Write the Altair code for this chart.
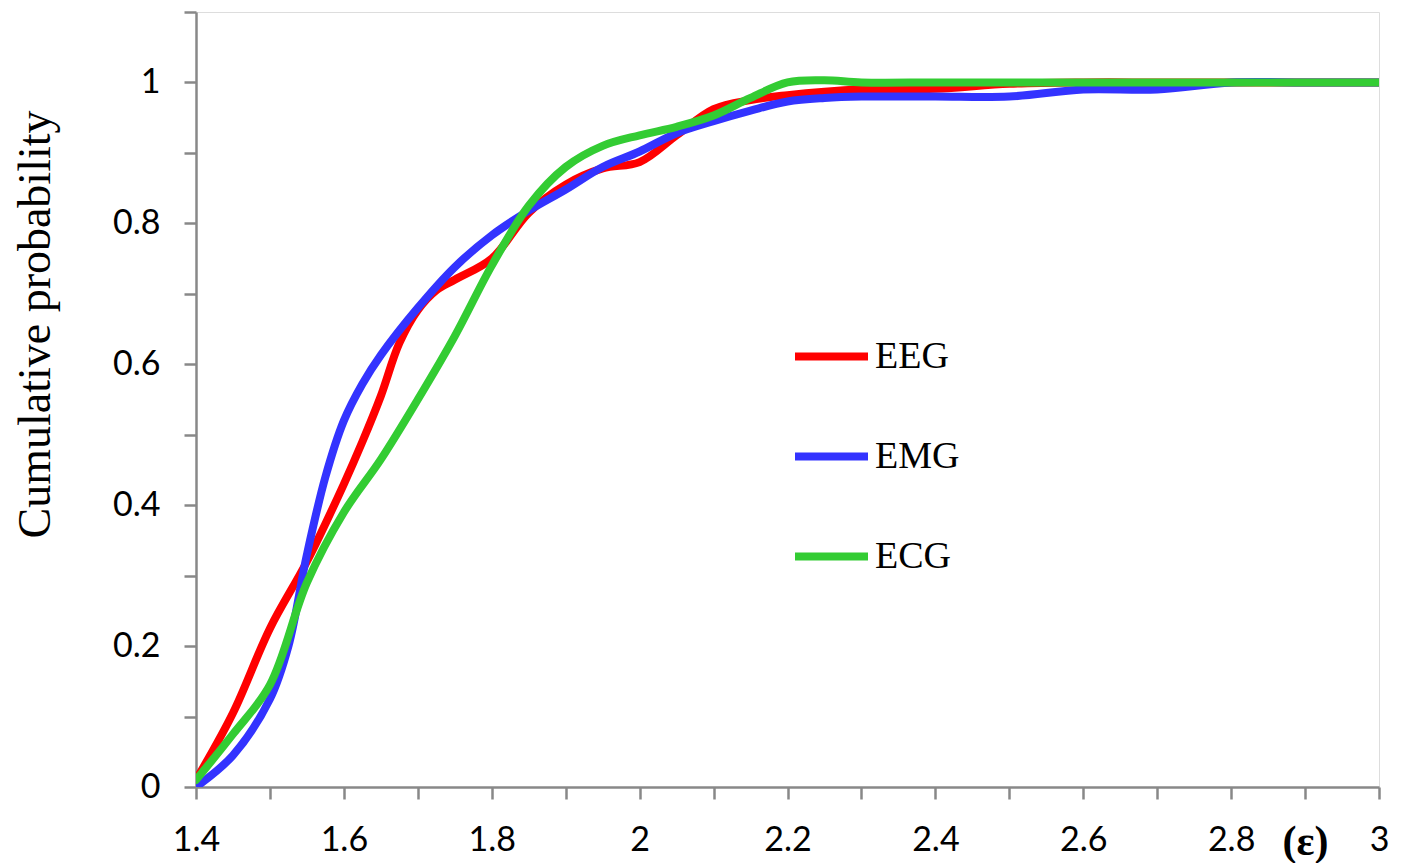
import altair as alt
import pandas as pd

# EEG series
eeg_x = [1.40, 1.45, 1.50, 1.55, 1.60, 1.625, 1.65, 1.675, 1.70, 1.725, 1.75, 1.80,
         1.85, 1.90, 1.95, 2.00, 2.05, 2.10, 2.15, 2.20, 2.25, 2.30, 2.40, 2.50,
         2.60, 2.70, 2.80, 2.90, 3.00]
eeg_y = [0.01, 0.105, 0.225, 0.32, 0.43, 0.49, 0.555, 0.63, 0.677, 0.705, 0.72, 0.75,
         0.815, 0.855, 0.878, 0.887, 0.925, 0.962, 0.975, 0.982, 0.987, 0.99, 0.991, 0.998,
         1.0, 1.0, 1.0, 1.0, 1.0]

# EMG series
emg_x = [1.40, 1.45, 1.50, 1.525, 1.55, 1.575, 1.60, 1.625, 1.65, 1.70, 1.75, 1.80,
         1.85, 1.90, 1.95, 2.00, 2.05, 2.10, 2.15, 2.20, 2.25, 2.30, 2.40, 2.50,
         2.60, 2.70, 2.80, 2.90, 3.00]
emg_y = [0.0, 0.045, 0.125, 0.2, 0.33, 0.44, 0.52, 0.572, 0.613, 0.68, 0.738, 0.783,
         0.818, 0.848, 0.88, 0.902, 0.928, 0.945, 0.96, 0.973, 0.978, 0.98, 0.98, 0.98,
         0.99, 0.99, 1.0, 1.0, 1.0]

# ECG series
ecg_x = [1.40, 1.45, 1.50, 1.55, 1.60, 1.65, 1.70, 1.75, 1.80, 1.85, 1.90, 1.95,
         2.00, 2.05, 2.10, 2.15, 2.20, 2.25, 2.30, 2.40, 2.50, 2.60, 2.70, 2.80,
         2.90, 3.00]
ecg_y = [0.01, 0.075, 0.145, 0.29, 0.39, 0.465, 0.55, 0.64, 0.74, 0.825, 0.88, 0.91,
         0.925, 0.937, 0.953, 0.978, 1.0, 1.003, 1.0, 1.0, 1.0, 1.0, 1.0, 1.0,
         1.0, 1.0]

series_names = ["EEG", "EMG", "ECG"]
series_colors = ["#FF0000", "#3333FF", "#33CC33"]

x_ticks = [1.4, 1.5, 1.6, 1.7, 1.8, 1.9, 2.0, 2.1, 2.2, 2.3, 2.4, 2.5, 2.6, 2.7,
           2.8, 2.9, 3.0]
y_ticks = [0.0, 0.1, 0.2, 0.3, 0.4, 0.5, 0.6, 0.7, 0.8, 0.9, 1.0, 1.1]

rows = []
for name, xs, ys in zip(series_names, [eeg_x, emg_x, ecg_x], [eeg_y, emg_y, ecg_y]):
    for x, y in zip(xs, ys):
        rows.append({"eps": x, "p": y, "signal": name})
df = pd.DataFrame(rows)

axis_gray = "#888888"

chart = alt.Chart(df).mark_line(
    strokeWidth=8, interpolate="catmull-rom", strokeCap="round", clip=True
).encode(
    x=alt.X(
        "eps:Q",
        scale=alt.Scale(domain=[1.4, 3.0], nice=False, zero=False),
        axis=alt.Axis(
            values=x_ticks,
            format="~g",
            labelExpr="round(datum.value*10) % 2 == 0 ? datum.label : ''",
            title="(ε)",
            titleFont="Liberation Serif",
            titleFontWeight="bold",
            titleFontSize=42,
            titleColor="black",
            titleX=1109,
            titleY=67,
            titleAlign="center",
            titleBaseline="alphabetic",
            labelFont="Lato",
            labelFontSize=34,
            labelColor="black",
            labelPadding=24,
            labelFlush=False,
            tickSize=12,
            tickWidth=2.5,
            tickColor=axis_gray,
            domainColor=axis_gray,
            domainWidth=2.5,
            grid=False,
        ),
    ),
    y=alt.Y(
        "p:Q",
        scale=alt.Scale(domain=[0, 1.1], nice=False),
        axis=alt.Axis(
            values=y_ticks,
            format="~g",
            labelExpr="round(datum.value*10) % 2 == 0 ? datum.label : ''",
            title="Cumulative probability",
            titleFont="Liberation Serif",
            titleFontWeight="normal",
            titleFontSize=46,
            titleColor="black",
            titleAngle=-90,
            titleX=-161,
            titleY=312,
            titleAlign="center",
            titleBaseline="middle",
            labelFont="Lato",
            labelFontSize=34,
            labelColor="black",
            labelPadding=24,
            labelFlush=False,
            tickSize=12,
            tickWidth=2.5,
            tickColor=axis_gray,
            domainColor=axis_gray,
            domainWidth=2.5,
            grid=False,
        ),
    ),
    color=alt.Color(
        "signal:N",
        scale=alt.Scale(domain=series_names, range=series_colors),
        sort=series_names,
        legend=alt.Legend(
            title=None,
            orient="none",
            legendX=595,
            legendY=304,
            symbolType="stroke",
            symbolSize=5329,
            symbolStrokeWidth=8,
            labelFont="Liberation Serif",
            labelFontSize=38,
            labelColor="black",
            labelOffset=3,
            rowPadding=40,
            padding=0,
        ),
    ),
    order="eps:Q",
).properties(
    width=1183,
    height=775,
    autosize=alt.AutoSizeParams(type="none"),
    padding={"left": 196, "top": 12, "right": 23, "bottom": 76},
).configure_view(stroke=None).configure(background="white")

chart.save("out.html", embed_options={"renderer": "svg", "actions": False})
